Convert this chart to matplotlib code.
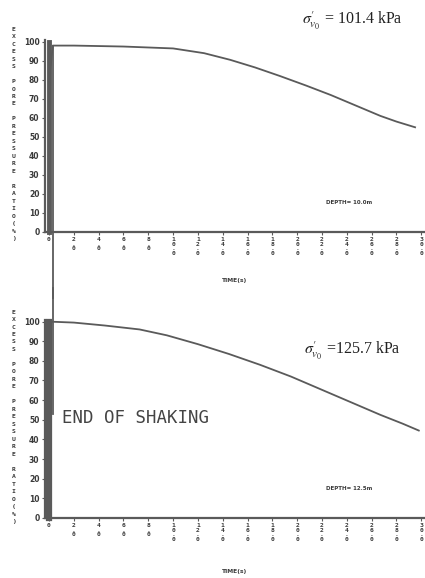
import matplotlib.pyplot as plt

# Time (s) and excess pore pressure ratio (%)
t_top = [0.0, 0.1, 0.3, 2.0, 6.0, 10.0, 12.5, 14.6, 16.6, 18.6, 20.7, 22.7, 24.7, 26.7, 28.0, 29.5]
r_top = [0.0, 85.0, 98.0, 98.0, 97.5, 96.5, 94.0, 90.5, 86.5, 82.0, 77.0, 72.0, 66.5, 61.0, 58.0, 55.0]

t_bot = [0.0, 2.0, 4.5, 7.3, 9.5, 12.0, 14.5, 17.0, 19.5, 21.9, 24.3, 26.7, 28.5, 29.8]
r_bot = [100.0, 99.5, 98.0, 96.0, 93.0, 88.5, 83.5, 78.0, 72.0, 65.5, 59.0, 52.5, 48.0, 44.5]

# shaking band at t = 0 and end-of-shaking marker
shake_t = [0.0, 0.0]
shake_r = [0.0, 100.0]
end_top_t = [0.35, 0.35]
end_top_r = [98.0, -35.0]
end_bot_t = [0.3, 0.3]
end_bot_r = [117.0, 53.0]

xticks = [0, 2, 4, 6, 8, 10, 12, 14, 16, 18, 20, 22, 24, 26, 28, 30]
yticks = [0, 10, 20, 30, 40, 50, 60, 70, 80, 90, 100]

ylab = "EXCESS PORE PRESSURE RATIO(%)"
ink = "#3a3a3a"
line_c = "#5a5a5a"

plt.rcParams["mathtext.fontset"] = "stix"

fig = plt.figure(figsize=(4.25, 5.78), dpi=100)
ax1 = fig.add_axes([0.106, 0.599, 0.894, 0.332])
ax2 = fig.add_axes([0.106, 0.104, 0.894, 0.343])


def stack(s):
    return "\n".join(list(s))


def setup(ax, depth, sigma, sig_y):
    ax.set_xlim(-0.32, 30.3)
    ax.set_ylim(0, 101)
    for side in ["top", "right"]:
        ax.spines[side].set_visible(False)
    for side in ["left", "bottom"]:
        ax.spines[side].set_color(line_c)
        ax.spines[side].set_linewidth(1.6)
    ax.set_xticks(xticks)
    labels = ["0"] + [stack("%.1f" % v) for v in xticks[1:]]
    ax.set_xticklabels(labels, fontsize=4.6, fontweight="bold", color=ink,
                       linespacing=0.85, va="top", fontfamily="DejaVu Sans Mono")
    ax.set_yticks(yticks)
    ax.set_yticklabels([str(v) for v in yticks], fontsize=5.5, fontweight="bold", color=ink)
    ax.tick_params(axis="both", length=2, width=0.8, color=line_c, pad=2)
    ax.text(0.5, -0.255, "TIME(s)", transform=ax.transAxes, ha="center", va="center",
            fontsize=4.3, fontweight="bold", color=ink)
    ax.text(-0.083, 0.51, stack(ylab), transform=ax.transAxes, ha="center", va="center",
            fontsize=4.6, fontweight="bold", color=ink, linespacing=1.62,
            fontfamily="DejaVu Sans Mono")
    ax.text(0.8, 0.15, depth, transform=ax.transAxes, ha="center", va="center",
            fontsize=4.0, fontweight="bold", color=ink)
    ax.text(0.81, sig_y, sigma, transform=ax.transAxes, ha="center", va="center",
            fontsize=11.5, color="#222222", family="Liberation Serif")


setup(ax1, "DEPTH= 10.0m", r"$\sigma_{v_0}^{\prime}$ = 101.4 kPa", 1.1)
setup(ax2, "DEPTH= 12.5m", r"$\sigma_{v_0}^{\prime}$ =125.7 kPa", 0.84)
ax2.texts[0].set_position((0.5, -0.27))

ax1.plot(t_top, r_top, color=line_c, lw=1.3)
ax1.plot(shake_t, shake_r, color=line_c, lw=3.5, clip_on=False)
ax1.plot(end_top_t, end_top_r, color=line_c, lw=1.3, clip_on=False)

ax2.plot(t_bot, r_bot, color=line_c, lw=1.3)
ax2.plot(shake_t, shake_r, color=line_c, lw=4.5, clip_on=False)
ax2.plot(end_bot_t, end_bot_r, color=line_c, lw=1.3, clip_on=False)
ax2.text(1.05, 51, "END OF SHAKING", fontsize=12.5, color="#444444",
         fontfamily="DejaVu Sans Mono", va="center", ha="left")

fig.savefig("out.png", dpi=100)
